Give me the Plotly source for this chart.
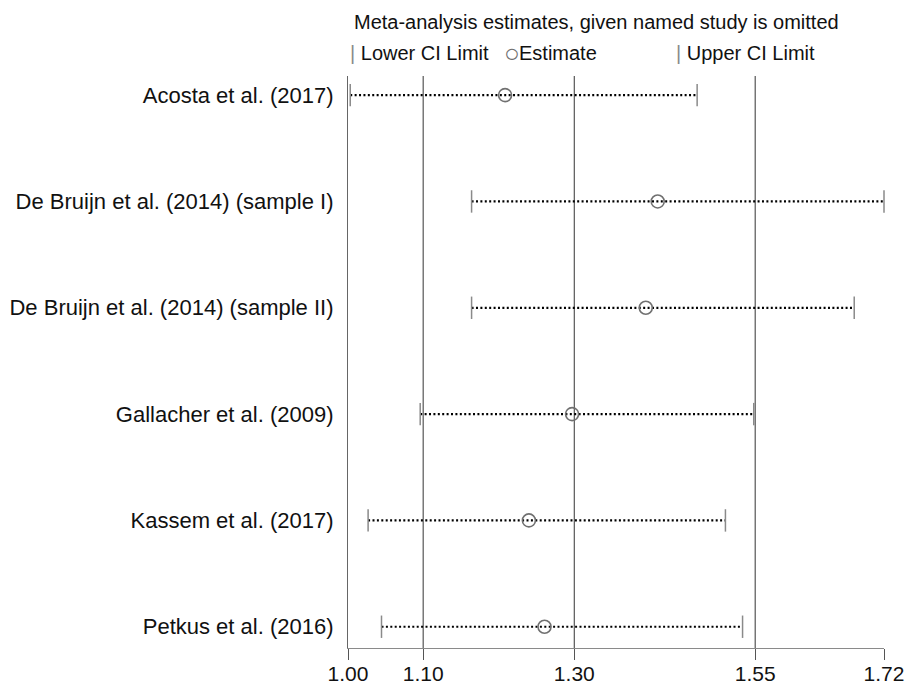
import plotly.graph_objects as go

studies = [
    "Acosta et al. (2017)",
    "De Bruijn et al. (2014) (sample I)",
    "De Bruijn et al. (2014) (sample II)",
    "Gallacher et al. (2009)",
    "Kassem et al. (2017)",
    "Petkus et al. (2016)",
]
estimate = [1.211, 1.416, 1.400, 1.301, 1.243, 1.264]
lower_ci = [1.003, 1.166, 1.166, 1.097, 1.027, 1.045]
upper_ci = [1.469, 1.720, 1.680, 1.545, 1.507, 1.530]

# overall estimate and its CI (vertical reference lines)
overall_vals = [1.101, 1.304, 1.547]
tick_vals = [1.00, 1.101, 1.304, 1.547, 1.72]
tick_text = ["1.00", "1.10", "1.30", "1.55", "1.72"]

FONT = "Liberation Sans, Arial, Helvetica, sans-serif"
W, H = 912, 684
ML, MR, MT, MB = 348, 28, 76, 36

fig = go.Figure()

for s, lo, hi in zip(studies, lower_ci, upper_ci):
    fig.add_trace(go.Scatter(
        x=[lo, hi], y=[s, s], mode="lines",
        line=dict(color="#000000", width=2.2, dash="2px,2.4px"),
        showlegend=False, hoverinfo="skip", cliponaxis=False))

fig.add_trace(go.Scatter(
    x=lower_ci + upper_ci, y=studies + studies, mode="markers",
    marker=dict(symbol="line-ns", size=16, line=dict(color="#8a8a8a", width=1.5)),
    showlegend=False, cliponaxis=False))

fig.add_trace(go.Scatter(
    x=estimate, y=studies, mode="markers",
    marker=dict(symbol="circle-open", size=13, color="#707070",
                line=dict(color="#707070", width=1.6)),
    showlegend=False, cliponaxis=False))

for v in overall_vals:
    fig.add_shape(type="line", xref="x", yref="paper", x0=v, x1=v, y0=0, y1=1,
                  line=dict(color="#555555", width=1.2), layer="below")

fig.update_xaxes(
    range=[1.00, 1.72], tickvals=tick_vals, ticktext=tick_text, automargin=False,
    showgrid=False, zeroline=False, showline=True, linecolor="#8a8a8a", linewidth=1.2,
    ticks="outside", ticklen=11, tickcolor="#555555", tickwidth=1.2,
    ticklabelstandoff=-4,
    tickfont=dict(family=FONT, size=21, color="#111111"))

fig.update_yaxes(
    range=[5.2, -0.18], showgrid=False, zeroline=False, automargin=False,
    showline=True, linecolor="#666666", linewidth=1.2,
    ticks="", ticklabelstandoff=9,
    tickfont=dict(family=FONT, size=22, color="#111111"))

ann = [
    dict(text="Meta-analysis estimates, given named study is omitted", px=352, shift=54, size=20, color="#111111"),
    dict(text="<span style='color:#8a8a8a'>|</span> Lower CI Limit", px=348, shift=23, size=20, color="#111111"),
    dict(text="○", px=502, shift=23, size=26, color="#707070"),
    dict(text="Estimate", px=517, shift=23, size=20, color="#111111"),
    dict(text="<span style='color:#8a8a8a'>|</span> Upper CI Limit", px=674, shift=23, size=20, color="#111111"),
]
for a in ann:
    fig.add_annotation(text=a["text"], xref="paper", yref="paper",
                       x=0, y=1, xanchor="left", yanchor="middle",
                       xshift=a["px"] - ML, yshift=a["shift"], showarrow=False,
                       font=dict(family=FONT, size=a["size"], color=a["color"]))

fig.update_layout(
    width=W, height=H, margin=dict(l=ML, r=MR, t=MT, b=MB, autoexpand=False),
    paper_bgcolor="white", plot_bgcolor="white", showlegend=False)

fig.write_html("out.html")
